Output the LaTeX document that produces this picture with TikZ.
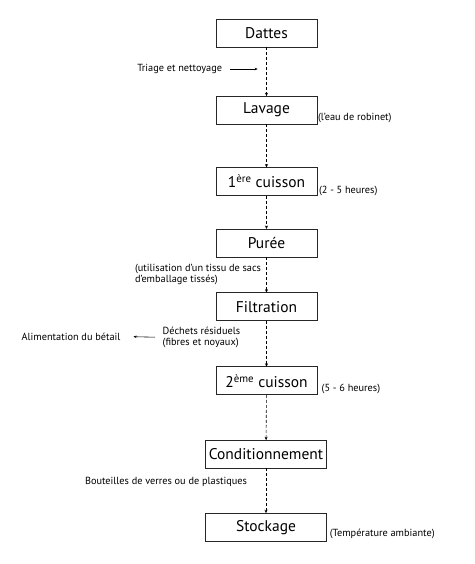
\documentclass[tikz,border=0pt]{standalone}
\usepackage{fontspec}
\setmainfont{PT Sans}
\usetikzlibrary{arrows.meta}
\begin{document}
\begin{tikzpicture}[
        x = 1pt, y = 1pt,
        outer sep = 0mm, inner sep = 0mm,
        stepbox/.style = {
          rectangle, draw = black!85, line width = .7pt, fill = white,
          minimum height = 28pt, minimum width = 101pt,
          font = \fontsize{15.5}{17}\selectfont,
        },
        widebox/.style = {stepbox, minimum width = 121pt},
        note/.style = {font = \fontsize{10.3}{11}\selectfont, align = left, anchor = west},
        flow/.style = {densely dashed, line width = .6pt, -{Stealth[length = 3.5pt, width = 3pt]}},
        side/.style = {line width = .6pt, -{Stealth[length = 3pt, width = 2.5pt]}}
      ]
      \useasboundingbox (0,0) rectangle (474,-564);

      % main chain
      \node[stepbox] (dattes) at (266.5,-32.9) {Dattes};
      \node[stepbox] (lavage) at (266.5,-110.2) {Lavage};
      \node[stepbox] (cuisson1) at (266.5,-181.5) {1\textsuperscript{ère} cuisson};
      \node[stepbox] (puree) at (266.5,-243) {Purée};
      \node[stepbox] (filtration) at (266.5,-306.7) {Filtration};
      \node[stepbox] (cuisson2) at (266.5,-380.8) {2\textsuperscript{ème} cuisson};
      \node[widebox] (condit) at (266,-454.2) {Conditionnement};
      \node[widebox] (stockage) at (266,-527.2) {Stockage};

      \draw[flow] (dattes) to (lavage);
      \draw[flow] (lavage) to (cuisson1);
      \draw[flow] (cuisson1) to (puree);
      \draw[flow] (puree) to (filtration);
      \draw[flow] (filtration) to (cuisson2);
      \draw[flow] (cuisson2) to (condit);
      \draw[flow] (condit) to (stockage);

      % notes
      \node[note] (triage) at (137.3,-69) {Triage et nettoyage};
      \coordinate (triageend) at (257.7,-69);
      \draw[side] ([xshift=8pt]triage.east) to (triageend);

      \node[note] (robinet) at ([xshift=1pt,yshift=6pt]lavage.south east) {(l’eau de robinet)};
      \node[note] (heures1) at ([xshift=2pt,yshift=4.6pt]cuisson1.south east) {(2 - 5 heures)};
      \node[note] (tissu) at (135,-274.7) {(utilisation d’un tissu de sacs\\d’emballage tissés)};

      \node[note] (dechets) at (162.7,-337.2) {Déchets résiduels\\(fibres et noyaux)};
      \node[note] (betail) at (21.7,-336.7) {Alimentation du bétail};
      \draw[side] ([xshift=-7.7pt]dechets.west) to ([xshift=13pt]betail.east);

      \node[note] (heures2) at ([xshift=4.7pt,yshift=5.7pt]cuisson2.south east) {(5 - 6 heures)};
      \node[note] (bouteilles) at (85,-482) {Bouteilles de verres ou de plastiques};
      \node[note] (ambiante) at ([xshift=3.3pt,yshift=7pt]stockage.south east) {(Température ambiante)};
    \end{tikzpicture}
\end{document}
